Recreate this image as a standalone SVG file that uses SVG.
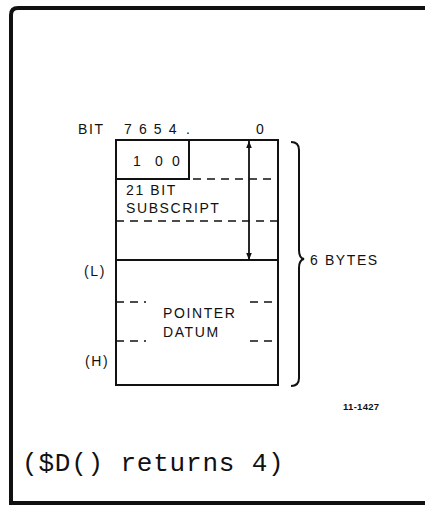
<svg xmlns="http://www.w3.org/2000/svg" width="425" height="507" viewBox="0 0 425 507">
<style>
.t{font-family:"Liberation Sans",Arial,sans-serif;font-size:14px;fill:#111;letter-spacing:1.6px}
.s{stroke:#111;fill:none;stroke-width:2}
.d{stroke:#111;fill:none;stroke-width:1.4;stroke-dasharray:8 6}
.m{font-family:"Liberation Mono","Courier New",monospace;font-size:26px;fill:#111;letter-spacing:0.8px}
</style>
<defs>
<marker id="ah" viewBox="0 0 10 10" refX="10" refY="5" markerWidth="7" markerHeight="11" markerUnits="userSpaceOnUse" orient="auto-start-reverse"><path d="M0,1 L10,5 L0,9 Z" fill="#111"/></marker>
</defs>
<rect width="425" height="507" fill="#fff"/>
<path d="M425,8 L18,8 Q11,8 11,15 L11,503 L425,503" fill="none" stroke="#111" stroke-width="4"/>
<g id="header">
<text class="t" x="78" y="134">BIT</text>
<text class="t" x="124" y="134" letter-spacing="2.6">7 6 5 4</text>
<text class="t" x="186" y="134">.</text>
<text class="t" x="256" y="134">0</text>
</g>
<g id="record">
<rect class="s" x="116" y="140" width="162" height="245"/>
<path class="s" d="M189,140 V179 H116" stroke-width="1.5"/>
<path class="d" d="M193,179 H278"/>
<path class="d" d="M116,221 H278"/>
<path class="s" d="M116,260 H278" stroke-width="1.5"/>
<path class="d" d="M116,302 H146 M250,302 H278"/>
<path class="d" d="M116,341 H146 M250,341 H278"/>
<text class="t" x="133" y="166">1</text>
<text class="t" x="155" y="166">0</text>
<text class="t" x="172" y="166">0</text>
<text class="t" x="126" y="195">21 BIT</text>
<text class="t" x="126" y="213" letter-spacing="1.2">SUBSCRIPT</text>
<text class="t" x="163" y="318">POINTER</text>
<text class="t" x="163" y="337">DATUM</text>
</g>
<g id="labels">
<text class="t" x="84" y="276">(L)</text>
<text class="t" x="85" y="366">(H)</text>
<text class="t" x="310" y="265" letter-spacing="2.6">6 BYTES</text>
<text x="343" y="410" font-family="Liberation Sans,Arial,sans-serif" font-size="9.5" font-weight="bold" fill="#111" letter-spacing="0.3">11-1427</text>
<text class="m" x="22" y="471">($D() returns 4)</text>
</g>
<g id="connectors">
<line x1="249" y1="260" x2="249" y2="141" stroke="#111" stroke-width="1.8" marker-end="url(#ah)" marker-start="url(#ah)"/>
<path class="s" stroke-width="1.5" d="M291,142 Q299,142 299,150 V250 Q299,258 304,259 Q299,260 299,268 V378 Q299,386 291,386"/>
</g>
</svg>
